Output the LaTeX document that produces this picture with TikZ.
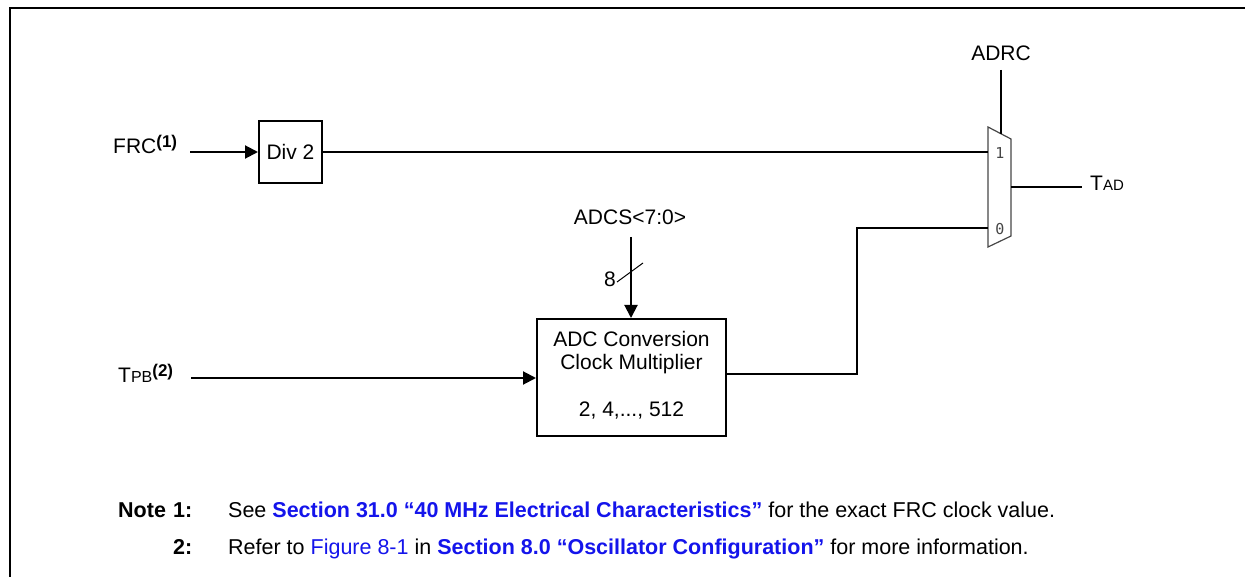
\documentclass[tikz,border=0pt]{standalone}
\usepackage{fontspec}
\setmainfont{Liberation Sans}
\setmonofont{DejaVu Sans Mono}
\usetikzlibrary{arrows.meta,calc}
\definecolor{linkblue}{RGB}{20,20,235}
\definecolor{muxgray}{RGB}{70,70,70}
\tikzset{
  wire/.style={line width=2pt},
  arrowwire/.style={wire,-{Triangle[length=13pt,width=13pt]}},
  lbl/.style={font=\fontsize{21}{25}\selectfont, inner sep=0pt},
  blockbox/.style={draw, line width=2pt, inner sep=0pt},
  muxnum/.style={font=\ttfamily\fontsize{15}{17}\selectfont, text=muxgray, inner sep=0pt},
  notetext/.style={font=\fontsize{21.5}{25}\selectfont, inner sep=0pt, anchor=base west},
  notebold/.style={notetext, font=\bfseries\fontsize{21.5}{25}\selectfont},
}
\newcommand{\sbold}[1]{\textbf{#1}}
\newcommand{\lnk}[1]{\textcolor{linkblue}{#1}}
\newcommand{\supnote}[1]{\raisebox{6pt}{\fontsize{17}{19}\selectfont\bfseries(#1)}}
\begin{document}
\begin{tikzpicture}[x=1pt,y=-1pt]
\useasboundingbox (0,0) rectangle (1245,577);
% frame
\draw[line width=2.4pt] (10,577) -- (10,8) -- (1245,8);

% FRC input
\node[lbl, anchor=base west] (frc) at (113,154) {FRC\supnote{1}};
\coordinate (frcend) at (190,152);
\node[blockbox, minimum width=63pt, minimum height=62pt] (div) at (290.5,152) {};
\node[lbl] (divtxt) at (div.center) {Div 2};
\draw[arrowwire] (frcend) -- (frcend -| div.west);

% Mux
\coordinate (mtl) at (988,127);
\coordinate (mtr) at (1011,139);
\coordinate (mbr) at (1011,236);
\coordinate (mbl) at (988,247);
\draw[line width=1.2pt, draw=muxgray] (mtl) -- (mtr) -- (mbr) -- (mbl) -- cycle;
\coordinate (m1) at (988,152);
\coordinate (m0) at (988,228);
\coordinate (mout) at (1011,187);
\coordinate (msel) at (1001,133.8);
\node[muxnum] (n1) at (1000,153) {1};
\node[muxnum] (n0) at (1000,229) {0};
\draw[wire] (div.east |- m1) -- (m1);

% ADRC
\node[lbl, anchor=base] (adrc) at (1001,61) {ADRC};
\coordinate (adrcend) at (1001,70);
\draw[wire] (adrcend) -- (msel);

% TAD
\node[lbl, anchor=base west] (tad) at (1090,191) {T{\fontsize{15}{17}\selectfont AD}};
\coordinate (tadend) at (1082,187);
\draw[wire] (mout) -- (tadend);

% ADCS
\node[lbl, anchor=base] (adcs) at (630,225) {ADCS<7:0>};
\coordinate (adcsend) at (631,237);
\node[blockbox, minimum width=189pt, minimum height=117pt] (adc) at (631.5,377.5) {};
\node[lbl, anchor=base] (adc1) at (631.5,346) {ADC Conversion};
\node[lbl, anchor=base] (adc2) at (631.5,369) {Clock Multiplier};
\node[lbl, anchor=base] (adc3) at (631.5,416) {2, 4,..., 512};
\draw[arrowwire] (adcsend) -- (adcsend |- adc.north);
\coordinate (slasha) at (617,282);
\coordinate (slashb) at (643,263);
\draw[line width=1pt] (slasha) -- (slashb);
\node[lbl, anchor=base] (eight) at (610,287) {8};

% TPB
\node[lbl, anchor=base west] (tpb) at (118,382) {T{\fontsize{16}{18}\selectfont PB}\supnote{2}};
\coordinate (tpbend) at (191,378);
\draw[arrowwire] (tpbend) -- (tpbend -| adc.west);

% ADC output to mux input 0
\coordinate (aout) at (726,374);
\coordinate (jog) at (857,300);
\draw[wire] (aout) -| (jog) |- (m0);

% Notes
\node[notebold] (note) at (118,517) {Note};
\node[notebold] (n1l) at (173,517) {1:};
\node[notetext] (note1) at (228,517) {See \lnk{\sbold{Section 31.0 “40 MHz Electrical Characteristics”}} for the exact FRC clock value.};
\node[notebold] (n2l) at (173,554) {2:};
\node[notetext] (note2) at (228,554) {Refer to \lnk{Figure 8-1} in \lnk{\sbold{Section 8.0 “Oscillator Configuration”}} for more information.};
\end{tikzpicture}
\end{document}
